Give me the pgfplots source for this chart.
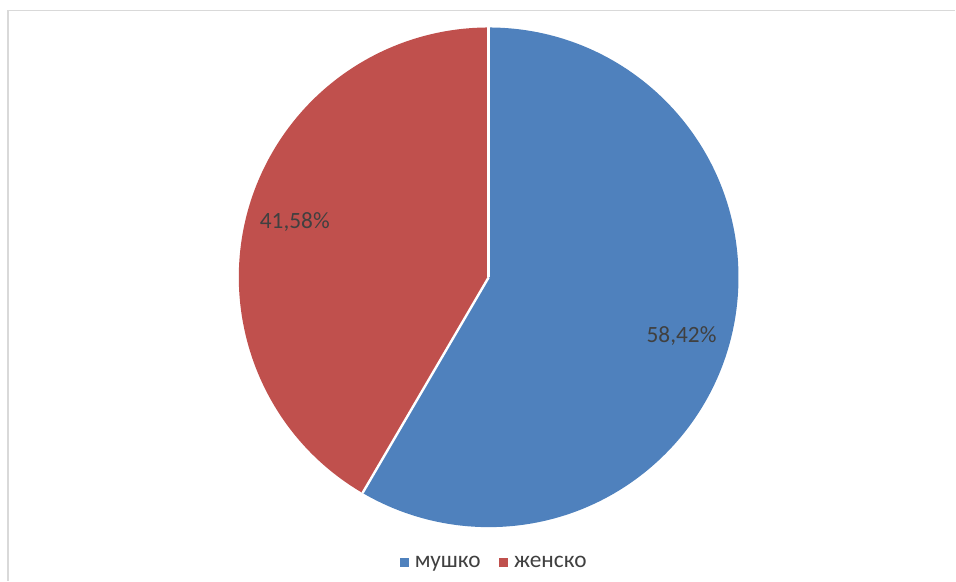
\documentclass[border=0pt]{standalone}
\usepackage{fontspec}
\setmainfont{Carlito}
\usepackage{pgfplots}
\pgfplotsset{compat=1.18}

\definecolor{pieblue}{HTML}{4F81BD}
\definecolor{piered}{HTML}{C0504D}
\definecolor{labelgray}{HTML}{404040}
\definecolor{framegray}{HTML}{D9D9D9}

% shares in percent
\def\male{58.42}
\def\female{41.58}

\begin{document}
\begin{tikzpicture}
\begin{axis}[
    width=717pt, height=435.75pt,
    scale only axis,
    xmin=0, xmax=956, ymin=0, ymax=581,
    axis lines=none,
    clip=false,
    legend columns=2,
    legend style={draw=none, fill=none, at={(axis cs:495,18)}, anchor=center,
        font=\fontsize{17.5}{20}\selectfont\color{labelgray},
        /tikz/every odd column/.append style={column sep=3pt},
        /tikz/every even column/.append style={column sep=12pt}},
    legend cell align=left,
]
    % keep the full canvas as bounding box
    \path (axis cs:0,0) rectangle (axis cs:956,581);
    % chart frame (cropped at right and bottom)
    \addplot[framegray, line width=1pt, forget plot] coordinates {(8,0) (8,570.5) (956,570.5)};

    \pgfmathsetmacro\angA{90-3.6*\male}
    % slices
    \fill[pieblue] (axis cs:489,303.5) -- ++(90:187.5pt)
        arc[start angle=90, end angle=\angA, radius=187.5pt] -- cycle;
    \fill[piered] (axis cs:489,303.5) -- ++(\angA:187.5pt)
        arc[start angle=\angA, end angle=-270, radius=187.5pt] -- cycle;
    \draw[white, line width=1.8pt] (axis cs:489,303.5) -- ++(90:187.5pt);
    \draw[white, line width=1.8pt] (axis cs:489,303.5) -- ++(\angA:187.5pt);

    % data labels
    \node[labelgray, font=\fontsize{17.5}{20}\selectfont] at (axis cs:682,244.5) {58,42\%};
    \node[labelgray, font=\fontsize{17.5}{20}\selectfont] at (axis cs:295,358.5) {41,58\%};

    \addlegendimage{only marks, mark=square*, mark size=3pt, color=pieblue}
    \addlegendentry{мушко}
    \addlegendimage{only marks, mark=square*, mark size=3pt, color=piered}
    \addlegendentry{женско}
\end{axis}
\end{tikzpicture}
\end{document}
